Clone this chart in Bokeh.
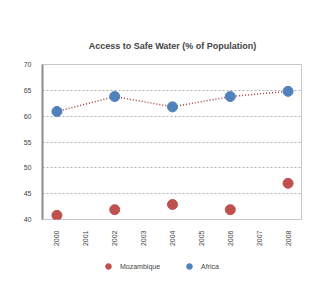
from math import pi
from bokeh.plotting import figure
from bokeh.layouts import column
from bokeh.models import Legend, LegendItem, ColumnDataSource, FixedTicker
from bokeh.embed import file_html
from bokeh.resources import INLINE

years = ["2000", "2001", "2002", "2003", "2004", "2005", "2006", "2007", "2008"]
data_years = ["2000", "2002", "2004", "2006", "2008"]
mozambique = [40.8, 41.9, 42.9, 41.9, 47.0]
africa = [60.9, 63.8, 61.8, 63.8, 64.8]
y_ticks = [40, 45, 50, 55, 60, 65, 70]
series_names = ["Mozambique", "Africa"]
series_colors = ["#c0504d", "#4f81bd"]

p = figure(x_range=years, y_range=(40, 70), width=302, height=252,
           output_backend="svg", toolbar_location=None,
           title="Access to Safe Water (% of Population)",
           min_border_left=42, min_border_right=0, min_border_top=64, min_border_bottom=33)
p.title.align = "center"
p.title.text_font = "Liberation Sans"
p.title.text_font_size = "9px"
p.title.text_font_style = "bold"
p.title.standoff = 28

p.outline_line_color = "#c8c8c8"
p.background_fill_color = "white"
p.border_fill_color = "white"

p.yaxis.ticker = FixedTicker(ticks=y_ticks)
p.yaxis.axis_line_color = "#8c8c8c"
p.yaxis.axis_line_width = 2
p.yaxis.major_tick_line_color = None
p.yaxis.minor_tick_line_color = None
p.yaxis.major_label_text_font_size = "7px"
p.yaxis.major_label_text_font = "Liberation Sans"

p.xaxis.axis_line_color = None
p.xaxis.major_tick_line_color = None
p.xaxis.major_label_orientation = pi / 2
p.xaxis.major_label_text_font_size = "7px"
p.xaxis.major_label_text_font = "Liberation Sans"

p.xgrid.grid_line_color = None
p.ygrid.grid_line_color = "#b0b0b0"
p.ygrid.grid_line_dash = "2 2"
p.ygrid.grid_line_width = 1

src = ColumnDataSource(dict(x=data_years, moz=mozambique, afr=africa))
p.line("x", "afr", source=src, line_color="#a83c3a", line_dash="1 2", line_width=1.5)
p.scatter("x", "moz", source=src, size=10, fill_color=series_colors[0], line_color=series_colors[0])
p.scatter("x", "afr", source=src, size=10, fill_color=series_colors[1], line_color=series_colors[1])

# legend strip below the chart (its glyphs fall outside its own range, so only the legend shows)
lg = figure(width=302, height=36, x_range=(0, 1), y_range=(0, 1),
            output_backend="svg", toolbar_location=None,
            min_border_left=0, min_border_right=0, min_border_top=0, min_border_bottom=0)
lg.axis.visible = False
lg.grid.visible = False
lg.outline_line_color = None
items = []
for name, col in zip(series_names, series_colors):
    r = lg.scatter(x="moz", y="afr", source=src, size=10, fill_color=col, line_color=col)
    items.append(LegendItem(label=name, renderers=[r]))
legend = Legend(items=items, orientation="horizontal", location=(59, 15),
                label_text_font_size="7px", label_text_font="Liberation Sans",
                border_line_color=None, background_fill_alpha=0,
                glyph_width=14, glyph_height=14, spacing=22, margin=0, padding=2)
lg.add_layout(legend)

layout = column(p, lg, spacing=0)
open("out.html", "w").write(file_html(layout, INLINE))
